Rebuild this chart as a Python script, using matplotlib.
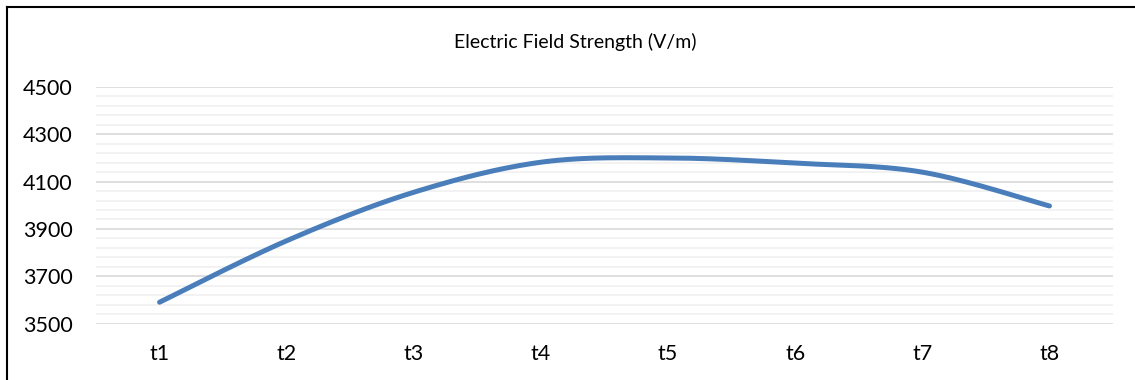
import numpy as np
import matplotlib
matplotlib.use("Agg")
import matplotlib.pyplot as plt
from matplotlib.lines import Line2D

categories = ["t1", "t2", "t3", "t4", "t5", "t6", "t7", "t8"]
field_strength = [3590, 3850, 4055, 4182, 4200, 4178, 4140, 3997]
y_ticks = [3500, 3700, 3900, 4100, 4300, 4500]

plt.rcParams['font.family'] = ['Lato', 'DejaVu Sans']


def smooth_line(x, y, steps=30):
    # Excel-style smoothed line (Catmull-Rom through the points)
    x = np.asarray(x, float)
    y = np.asarray(y, float)
    px = np.concatenate([[x[0]], x, [x[-1]]])
    py = np.concatenate([[y[0]], y, [y[-1]]])
    xs, ys = [], []
    t = np.linspace(0, 1, steps)
    for i in range(1, len(px) - 2):
        p0, p1, p2, p3 = [np.array([px[j], py[j]]) for j in (i - 1, i, i + 1, i + 2)]
        c1 = p1 + (p2 - p0) / 6
        c2 = p2 - (p3 - p1) / 6
        b = ((1 - t) ** 3)[:, None] * p1 + (3 * (1 - t) ** 2 * t)[:, None] * c1 \
            + (3 * (1 - t) * t ** 2)[:, None] * c2 + (t ** 3)[:, None] * p2
        xs.extend(b[:, 0])
        ys.extend(b[:, 1])
    return np.array(xs), np.array(ys)


fig = plt.figure(figsize=(11.35, 3.8), dpi=100)
ax = fig.add_axes([96 / 1135, 1 - 323.5 / 380, (1113 - 96) / 1135, (323.5 - 87) / 380])

xpos = np.arange(len(categories))
sx, sy = smooth_line(xpos, field_strength)
ax.plot(sx, sy, color="#4a7ebb", lw=3.6, solid_capstyle="round", zorder=3)

ax.set_xlim(-0.5, len(categories) - 0.5)
ax.set_ylim(y_ticks[0], y_ticks[-1])
ax.set_yticks(y_ticks)
ax.set_yticks(np.arange(y_ticks[0], y_ticks[-1] + 1, 40), minor=True)
ax.grid(which="major", axis="y", color="#d9d9d9", lw=1.2)
ax.grid(which="minor", axis="y", color="#f0f0f0", lw=1.2)
ax.set_axisbelow(True)
ax.set_xticks(xpos)
ax.set_xticklabels(categories)
ax.tick_params(which="both", length=0)
ax.tick_params(axis="y", labelsize=15.5, pad=17, colors="#000000")
ax.tick_params(axis="x", labelsize=15.5, pad=14.5)
for s in ax.spines.values():
    s.set_visible(False)

fig.text(575 / 1135, 1 - 42 / 380, "Electric Field Strength (V/m)", ha="center", va="center",
         fontsize=14, color="#000000")

# chart border (cropped at right and bottom)
fig.add_artist(Line2D([7 / 1135, 7 / 1135], [0, 1 - 7 / 380], color="black", lw=1.5))
fig.add_artist(Line2D([7 / 1135, 1], [1 - 7 / 380, 1 - 7 / 380], color="black", lw=1.5))

fig.savefig("out.png", dpi=100)
